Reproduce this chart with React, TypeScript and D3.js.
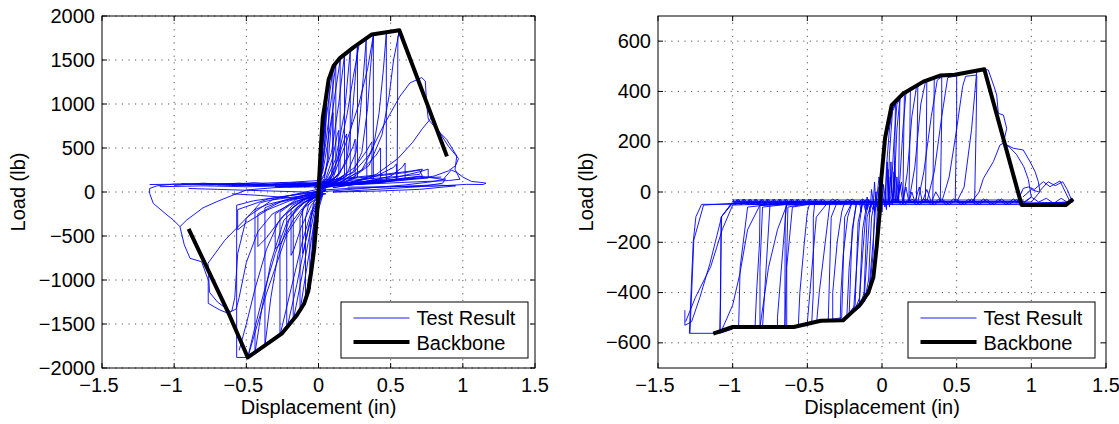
import React from "react";
import * as d3 from "d3";

type Pt = [number, number];

const X_TICKS = [-1.5, -1, -0.5, 0, 0.5, 1, 1.5];
const LEFT_Y_TICKS = [-2000, -1500, -1000, -500, 0, 500, 1000, 1500, 2000];
const RIGHT_Y_TICKS = [-600, -400, -200, 0, 200, 400, 600];
const LEGEND_LABELS = ["Test Result", "Backbone"];
const X_LABEL = "Displacement (in)";
const Y_LABEL = "Load (lb)";

const LEFT_BACKBONE: Pt[] = [
  [-0.9, -420], [-0.625, -1370], [-0.49, -1880], [-0.255, -1610], [-0.15, -1400],
  [-0.1, -1270], [-0.07, -1120], [-0.05, -900], [-0.03, -650], [-0.012, -300],
  [0, 0], [0.015, 480], [0.03, 850], [0.045, 1000], [0.07, 1275], [0.105, 1435],
  [0.15, 1525], [0.24, 1640], [0.37, 1790], [0.56, 1838], [0.89, 405],
];

const RIGHT_BACKBONE: Pt[] = [
  [-1.13, -563], [-1.0, -537], [-0.59, -537], [-0.41, -512], [-0.26, -510],
  [-0.15, -450], [-0.092, -400], [-0.058, -340], [-0.036, -220], [-0.015, -80],
  [-0.005, 50], [0.02, 213], [0.065, 345], [0.143, 392], [0.277, 439],
  [0.389, 463], [0.487, 466], [0.685, 488], [0.935, -52], [1.23, -52], [1.28, -28],
];

const LEFT_TEST: Pt[][] = [
  [[-0.02, -250], [-0.01, -100], [0, 0], [0.01, 150], [0.02, 350], [0.03, 500], [0.02, 300], [0.01, 120], [0, 20], [-0.01, -80], [-0.02, -250]],
  [[-0.04, -700], [-0.03, -450], [-0.015, -150], [0, 20], [0.015, 300], [0.03, 650], [0.045, 900], [0.04, 700], [0.02, 300], [0.005, 80], [-0.01, -100], [-0.03, -400], [-0.04, -700]],
  [[-0.06, -1100], [-0.05, -850], [-0.03, -450], [-0.01, -100], [0.01, 150], [0.03, 550], [0.05, 1000], [0.06, 1150], [0.05, 700], [0.03, 350], [0.01, 100], [-0.01, -80], [-0.04, -500], [-0.06, -1100]],
  [[-0.05, -950], [-0.035, -600], [-0.02, -250], [0, 50], [0.02, 400], [0.035, 750], [0.05, 950], [0.045, 600], [0.03, 280], [0.01, 60], [-0.02, -300], [-0.05, -950]],
  // positive peaks
  [[-0.02, 30], [0.01, 250], [0.03, 650], [0.05, 1000], [0.07, 1250], [0.075, 1270], [0.07, 700], [0.06, 350], [0.04, 180], [0.0, 100], [-0.05, 80], [-0.15, 60]],
  [[-0.03, 40], [0, 150], [0.02, 400], [0.05, 800], [0.08, 1150], [0.1, 1400], [0.1, 400], [0.09, 200], [0.05, 120], [0, 90], [-0.2, 80]],
  [[-0.02, 50], [0.02, 220], [0.05, 550], [0.08, 950], [0.12, 1450], [0.12, 250], [0.1, 150], [0.05, 110], [-0.1, 90], [-0.3, 80]],
  [[-0.02, 60], [0.03, 230], [0.06, 520], [0.1, 950], [0.15, 1500], [0.15, 220], [0.12, 140], [0.06, 110], [-0.1, 90], [-0.35, 85]],
  [[-0.02, 50], [0.04, 200], [0.09, 450], [0.14, 1000], [0.18, 1560], [0.18, 200], [0.14, 130], [0.06, 100], [-0.2, 90], [-0.4, 80]],
  [[0, 40], [0.06, 160], [0.12, 380], [0.18, 900], [0.22, 1610], [0.22, 190], [0.17, 120], [0.08, 100], [-0.3, 85], [-0.5, 80]],
  [[0, 40], [0.08, 120], [0.15, 220], [0.2, 400], [0.23, 800], [0.25, 1200], [0.27, 1660], [0.27, 170], [0.2, 120], [0.1, 90], [-0.4, 85], [-0.55, 80]],
  [[0, 40], [0.1, 110], [0.2, 220], [0.26, 450], [0.29, 900], [0.31, 1300], [0.33, 1730], [0.335, 160], [0.27, 120], [0.1, 90], [-0.5, 80], [-0.6, 75]],
  [[0, 40], [0.12, 110], [0.24, 230], [0.3, 450], [0.34, 950], [0.36, 1400], [0.38, 1780], [0.38, 140], [0.3, 110], [0.1, 85], [-0.5, 80], [-0.7, 80]],
  [[0.02, 40], [0.15, 110], [0.3, 250], [0.38, 500], [0.42, 900], [0.45, 1400], [0.47, 1810], [0.47, 130], [0.38, 110], [0.1, 80], [-0.6, 80], [-0.75, 85]],
  [[0.02, 40], [0.2, 120], [0.35, 300], [0.44, 650], [0.49, 1100], [0.52, 1500], [0.56, 1830], [0.55, 1760], [0.545, 150], [0.45, 110], [0.1, 75], [-0.6, 80], [-0.8, 90]],
  [[0.05, 50], [0.1, 200], [0.15, 500], [0.2, 900], [0.24, 1300], [0.28, 1660]],
  [[0.05, 60], [0.12, 250], [0.2, 600], [0.28, 1000], [0.34, 1400], [0.38, 1780]],
  // second-cycle spikes
  [[0, 40], [0.04, 150], [0.07, 400], [0.09, 800], [0.1, 900], [0.1, 200], [0.05, 100], [-0.1, 60]],
  [[0, 30], [0.05, 150], [0.1, 400], [0.13, 650], [0.14, 700], [0.14, 200], [0.08, 110], [-0.1, 60]],
  [[0, 40], [0.07, 140], [0.13, 350], [0.18, 600], [0.195, 660], [0.195, 180], [0.12, 110], [-0.1, 60]],
  [[0, 30], [0.1, 130], [0.18, 300], [0.24, 520], [0.254, 600], [0.254, 170], [0.15, 100], [-0.2, 60]],
  [[0, 30], [0.12, 120], [0.25, 280], [0.33, 460], [0.37, 570], [0.37, 160], [0.2, 100], [-0.2, 60]],
  [[0, 30], [0.15, 110], [0.3, 250], [0.4, 420], [0.43, 500], [0.43, 150], [0.25, 100], [-0.3, 60]],
  [[0, 30], [0.2, 100], [0.4, 180], [0.52, 280], [0.54, 320], [0.54, 140], [0.3, 90], [-0.3, 60]],
  [[0.1, 50], [0.3, 100], [0.5, 180], [0.58, 280], [0.6, 330], [0.6, 150], [0.4, 100], [0.0, 60]],
  [[0.05, 60], [0.3, 110], [0.55, 170], [0.7, 230], [0.76, 260], [0.76, 160], [0.5, 120], [0.1, 70]],
  // post-peak positive
  [[-0.2, 60], [0.05, 100], [0.241, 220], [0.35, 420], [0.449, 750], [0.565, 1090], [0.634, 1240], [0.715, 1300], [0.74, 1260], [0.75, 980], [0.761, 826], [0.819, 712], [0.888, 598], [0.958, 409], [0.946, 258], [0.98, 145], [0.9, 130], [0.6, 110], [0.2, 80], [-0.3, 60]],
  [[0.0, 50], [0.2, 100], [0.4, 200], [0.55, 380], [0.65, 560], [0.72, 720], [0.78, 840], [0.8, 780], [0.85, 650], [0.9, 520], [0.95, 420], [0.97, 380], [0.95, 300], [0.9, 240], [0.8, 180], [0.6, 140], [0.3, 100], [0.0, 60]],
  [[0.1, 50], [0.4, 120], [0.7, 180], [0.865, 144], [0.92, 250], [0.96, 220], [1.0, 170], [1.06, 120], [1.12, 110], [1.142, 106], [1.16, 100], [1.14, 85], [1.027, 87], [0.8, 65], [0.5, 60], [0.2, 55]],
  [[0.0, 0], [0.3, 40], [0.6, 80], [0.8, 120], [0.88, 150], [0.86, 100], [0.7, 60], [0.4, 30], [0.1, 0]],
  [[0, 80], [0.2, 150], [0.4, 180], [0.6, 220], [0.7, 250], [0.72, 180], [0.6, 150], [0.4, 120], [0.2, 100]],
  [[0.0, 20], [0.2, 40], [0.5, 60], [0.8, 80], [0.95, 70], [0.7, 30], [0.4, 10], [0.1, 0]],
  [[0.0, 110], [0.2, 160], [0.45, 200], [0.65, 240], [0.72, 260], [0.7, 200], [0.5, 170], [0.2, 130]],
  // negative peaks
  [[0.03, -20], [0, -150], [-0.02, -450], [-0.04, -800], [-0.06, -1100], [-0.06, -500], [-0.05, -250], [-0.03, -100], [0, -30], [0.05, 30]],
  [[0.03, -30], [0, -200], [-0.03, -500], [-0.06, -900], [-0.09, -1220], [-0.09, -300], [-0.07, -150], [-0.03, -60], [0.05, 20]],
  [[0.02, -40], [-0.02, -220], [-0.05, -550], [-0.09, -950], [-0.128, -1350], [-0.128, -300], [-0.1, -180], [-0.05, -80], [0.05, 20]],
  [[0.02, -40], [-0.03, -230], [-0.07, -560], [-0.12, -1000], [-0.175, -1460], [-0.175, -250], [-0.14, -170], [-0.06, -80], [0.05, 20]],
  [[0.02, -40], [-0.04, -230], [-0.09, -560], [-0.15, -1050], [-0.22, -1560], [-0.22, -250], [-0.17, -160], [-0.08, -80], [0.05, 20]],
  [[0.02, -40], [-0.05, -220], [-0.11, -550], [-0.19, -1100], [-0.267, -1630], [-0.267, -230], [-0.2, -150], [-0.1, -70], [0.05, 20]],
  [[0.02, -30], [-0.1, -120], [-0.2, -300], [-0.28, -700], [-0.33, -1200], [-0.371, -1750], [-0.371, -180], [-0.3, -130], [-0.15, -70], [0.05, 30]],
  [[0.02, -30], [-0.12, -130], [-0.24, -320], [-0.33, -800], [-0.39, -1300], [-0.44, -1830], [-0.44, -200], [-0.35, -140], [-0.15, -60], [0.05, 40]],
  [[0.02, -30], [-0.1, -180], [-0.22, -480], [-0.36, -1150], [-0.49, -1880], [-0.567, -1880], [-0.567, -150], [-0.45, -100], [-0.2, -40], [0.05, 50]],
  [[0.02, -20], [-0.03, -150], [-0.07, -400], [-0.1, -650], [-0.11, -700], [-0.11, -200], [-0.06, -90], [0.03, 0]],
  [[0.02, -20], [-0.05, -150], [-0.12, -400], [-0.17, -650], [-0.19, -720], [-0.19, -200], [-0.1, -80], [0.03, 0]],
  [[0.02, -20], [-0.08, -120], [-0.18, -330], [-0.26, -580], [-0.3, -650], [-0.3, -250], [-0.15, -80], [0.03, 0]],
  [[0.0, -20], [-0.12, -100], [-0.25, -280], [-0.36, -520], [-0.42, -620], [-0.42, -250], [-0.25, -100], [0.0, 0]],
  [[0.0, -10], [-0.2, -100], [-0.35, -200], [-0.5, -350], [-0.56, -430], [-0.56, -200], [-0.35, -80], [0, 10]],
  // outer negative loops
  [[-0.3, 80], [-0.7, 90], [-1.0, 90], [-1.12, 70], [-1.17, 40], [-1.17, -15], [-1.145, -129], [-1.05, -260], [-1.006, -318], [-0.96, -394], [-0.93, -600], [-0.89, -754], [-0.81, -792], [-0.764, -1000], [-0.764, -1265], [-0.683, -1341], [-0.625, -1379], [-0.6, -1350], [-0.58, -1200], [-0.56, -700], [-0.5, -300], [-0.4, -120], [-0.2, -40], [0, 0]],
  [[-0.96, -394], [-0.913, -318], [-0.8, -180], [-0.705, -110], [-0.6, -40], [-0.498, 23], [-0.3, 50], [0, 60]],
  [[0.05, -20], [-0.1, -40], [-0.32, -90], [-0.49, -280], [-0.65, -550], [-0.766, -810], [-0.755, -1140], [-0.7, -1250], [-0.61, -1360], [-0.57, -1330], [-0.55, -1200], [-0.5, -800], [-0.42, -450], [-0.32, -250], [-0.15, -100], [0.05, -20]],
  [[-0.49, -1880], [-0.45, -1600], [-0.38, -1150], [-0.3, -700], [-0.22, -350], [-0.15, -180], [-0.05, -60]],
  [[-0.55, -1800], [-0.5, -1500], [-0.44, -1100], [-0.36, -650], [-0.28, -350], [-0.18, -150], [-0.05, -40]],
  // band lines
  [[-1.17, 85], [-1.0, 88], [-0.7, 95], [-0.4, 100], [-0.2, 110], [0, 130], [0.1, 150]],
  [[-0.9, 40], [-0.7, 30], [-0.5, 20], [-0.3, 10], [-0.1, 0], [0.05, -20]],
  [[-0.6, -20], [-0.4, -40], [-0.25, -60], [-0.1, -80], [0, -60]],
  [[-1.1, 60], [-0.8, 70], [-0.5, 60], [-0.2, 70], [0, 90], [0.3, 120], [0.6, 150], [0.85, 170]],
  [[-1.0, 75], [-0.8, 100], [-0.6, 80], [-0.45, 105], [-0.3, 85], [-0.15, 110], [0, 100]],
  [[-0.95, 95], [-0.75, 80], [-0.55, 100], [-0.4, 75], [-0.25, 105], [-0.1, 90], [0.05, 120]],
];

const RIGHT_TEST: Pt[][] = [
  // positive cycles
  [[-0.03, -40], [0.02, -40], [0.03, 100], [0.05, 250], [0.07, 330], [0.09, 350], [0.085, 150], [0.08, -40], [0.0, -40]],
  [[0.02, -40], [0.04, -40], [0.05, 150], [0.07, 320], [0.1, 360], [0.12, 375], [0.115, 200], [0.11, -40], [0, -40]],
  [[0.04, -40], [0.06, -20], [0.08, 200], [0.1, 350], [0.13, 380], [0.15, 390], [0.145, 200], [0.14, -40], [0, -40]],
  [[0.06, -40], [0.08, 0], [0.1, 250], [0.12, 370], [0.17, 400], [0.19, 405], [0.185, 150], [0.18, -40], [0, -40]],
  [[0.1, -40], [0.12, 50], [0.14, 250], [0.16, 390], [0.22, 420], [0.24, 425], [0.235, 150], [0.23, -40], [0, -40]],
  [[0.14, -40], [0.17, 80], [0.2, 300], [0.23, 415], [0.28, 437], [0.3, 440], [0.297, 200], [0.29, -40], [0, -40]],
  [[0.18, -40], [0.22, 100], [0.26, 350], [0.29, 435], [0.34, 450], [0.35, 452], [0.345, 200], [0.34, -40], [0, -40]],
  [[0.24, -40], [0.28, 80], [0.33, 300], [0.37, 445], [0.4, 458], [0.4, 300], [0.39, -40], [0, -40]],
  [[0.3, -40], [0.35, 80], [0.4, 300], [0.44, 455], [0.5, 462], [0.5, 300], [0.49, -40], [0, -40]],
  [[0.4, -40], [0.45, 60], [0.5, 250], [0.54, 420], [0.56, 460], [0.63, 465], [0.635, 460], [0.63, 250], [0.62, -40], [0, -40]],
  [[0.5, -40], [0.55, 20], [0.6, 250], [0.634, 479], [0.685, 488], [0.712, 485], [0.75, 420], [0.768, 386], [0.779, 313], [0.813, 306], [0.835, 253], [0.813, 194], [0.88, 174], [0.946, 167], [0.991, 121], [1.025, 81], [1.047, 41], [1.058, 1], [1.0, -40], [0.5, -40]],
  [[0.6, -40], [0.65, 0], [0.679, 54], [0.746, 121], [0.79, 187], [0.813, 194], [0.85, 180], [0.9, 150], [0.95, 100], [0.98, 50], [1.0, -20], [0.95, -40], [0.5, -40]],
  [[0.9, -45], [0.947, 15], [0.98, 20], [1.02, 10], [1.08, 41], [1.125, 21], [1.192, 44], [1.237, -12], [1.26, -40], [1.0, -45]],
  [[0.945, -19], [1.0, 10], [1.05, 0], [1.112, 41], [1.16, 25], [1.21, 41], [1.24, 10], [1.27, -32], [1.28, -40], [1.0, -45]],
  [[0.95, -45], [1.0, -20], [1.05, -40], [1.1, -25], [1.15, -45], [1.2, -25], [1.25, -45], [1.28, -35]],
  // negative cycles
  [[0.0, -40], [-0.03, -40], [-0.04, -200], [-0.06, -330], [-0.085, -400], [-0.09, -410], [-0.06, -200], [-0.04, -40], [0.05, -40]],
  [[-0.03, -40], [-0.05, -60], [-0.06, -250], [-0.085, -400], [-0.118, -436], [-0.12, -430], [-0.1, -250], [-0.08, -60], [-0.06, -40], [0.05, -40]],
  [[-0.05, -40], [-0.07, -100], [-0.09, -350], [-0.118, -436], [-0.15, -460], [-0.15, -420], [-0.13, -250], [-0.11, -100], [-0.09, -40], [0.05, -40]],
  [[-0.07, -40], [-0.1, -100], [-0.12, -400], [-0.15, -460], [-0.186, -476], [-0.19, -470], [-0.17, -300], [-0.15, -120], [-0.13, -40], [0.05, -40]],
  [[-0.1, -40], [-0.13, -150], [-0.15, -420], [-0.186, -476], [-0.23, -500], [-0.235, -490], [-0.22, -300], [-0.19, -120], [-0.17, -40], [0.05, -40]],
  [[-0.13, -40], [-0.16, -120], [-0.18, -450], [-0.257, -512], [-0.28, -512], [-0.275, -400], [-0.26, -250], [-0.23, -100], [-0.2, -40], [0.05, -40]],
  [[-0.17, -40], [-0.2, -150], [-0.22, -490], [-0.257, -512], [-0.33, -512], [-0.33, -400], [-0.3, -200], [-0.27, -80], [-0.25, -40], [0.05, -40]],
  [[-0.2, -40], [-0.25, -100], [-0.27, -500], [-0.39, -512], [-0.437, -515], [-0.42, -400], [-0.39, -250], [-0.36, -100], [-0.348, -40], [0.05, -40]],
  [[-0.3, -40], [-0.34, -100], [-0.36, -512], [-0.46, -520], [-0.47, -515], [-0.46, -400], [-0.46, -100], [-0.45, -40], [0.05, -40]],
  [[-0.36, -40], [-0.44, -100], [-0.5, -520], [-0.55, -530], [-0.56, -530], [-0.55, -400], [-0.52, -200], [-0.5, -80], [-0.482, -40], [0.05, -40]],
  [[-0.4, -40], [-0.6, -60], [-0.638, -300], [-0.638, -537], [-0.65, -537], [-0.65, -400], [-0.648, -100], [-0.64, -40], [0.05, -40]],
  [[-0.45, -40], [-0.63, -60], [-0.65, -530], [-0.7, -537], [-0.7, -500], [-0.68, -350], [-0.66, -200], [-0.638, -40], [0.05, -40]],
  [[-0.5, -40], [-0.8, -60], [-0.817, -300], [-0.817, -537], [-0.85, -537], [-0.84, -400], [-0.82, -200], [-0.817, -52], [0.05, -40]],
  [[-0.55, -40], [-0.75, -50], [-0.8, -537], [-0.817, -537], [-0.76, -300], [-0.7, -150], [-0.638, -52], [0.05, -40]],
  [[-0.6, -40], [-0.9, -60], [-0.95, -300], [-0.96, -540], [-1.07, -545], [-1.0, -450], [-0.951, -323], [-0.9, -150], [-0.817, -52], [0.05, -40]],
  [[-0.8, -40], [-1.0, -45], [-1.078, -100], [-1.08, -400], [-1.085, -555], [-1.08, -300], [-1.074, -98], [-1.007, -45], [0.05, -40]],
  [[-0.9, -45], [-1.007, -49], [-1.208, -49], [-1.246, -98], [-1.264, -198], [-1.281, -430], [-1.29, -562], [-1.085, -562], [-1.0, -545]],
  [[-1.32, -470], [-1.32, -530], [-1.275, -516], [-1.22, -420], [-1.152, -284], [-1.074, -98], [-1.007, -45], [-0.5, -40]],
  [[-1.315, -516], [-1.25, -420], [-1.147, -297], [-1.07, -150], [-1.0, -52], [-0.6, -45]],
  [[-1.286, -560], [-1.26, -191], [-1.195, -52], [-1.0, -45]],
  // band zigzags
  [[-1.0, -28], [-0.98, -50], [-0.96, -29], [-0.94, -50], [-0.92, -28], [-0.9, -49], [-0.88, -28], [-0.86, -50], [-0.84, -29], [-0.82, -50], [-0.8, -28], [-0.78, -50], [-0.76, -28], [-0.74, -49], [-0.72, -28], [-0.7, -50], [-0.68, -29], [-0.66, -50], [-0.64, -28], [-0.62, -50], [-0.6, -28], [-0.58, -49], [-0.56, -28], [-0.54, -50], [-0.52, -29], [-0.5, -50], [-0.48, -28], [-0.46, -50], [-0.44, -28], [-0.42, -50], [-0.4, -28]],
  [[-0.99, -50], [-0.97, -29], [-0.95, -50], [-0.93, -28], [-0.91, -50], [-0.89, -29], [-0.87, -50], [-0.85, -28], [-0.83, -50], [-0.81, -29], [-0.79, -50], [-0.77, -28], [-0.75, -50], [-0.73, -29], [-0.71, -50], [-0.69, -28], [-0.67, -50], [-0.65, -29], [-0.63, -50], [-0.61, -28], [-0.59, -50], [-0.57, -29], [-0.55, -50], [-0.53, -28], [-0.51, -50], [-0.49, -29], [-0.47, -50], [-0.45, -28], [-0.43, -50], [-0.41, -29]],
  [[-0.4, -28], [-0.35, -50], [-0.3, -29], [-0.25, -50], [-0.2, -28], [-0.15, -50], [-0.1, -29], [-0.05, -50], [0.0, -28], [0.05, -50], [0.1, -29], [0.15, -50], [0.2, -28], [0.25, -50], [0.3, -29], [0.35, -50], [0.4, -28], [0.45, -50], [0.5, -29], [0.55, -50], [0.6, -28], [0.65, -50], [0.7, -29], [0.75, -50], [0.8, -28], [0.85, -50], [0.9, -30], [0.95, -50]],
  [[-0.38, -50], [-0.33, -28], [-0.28, -50], [-0.23, -29], [-0.18, -50], [-0.13, -28], [-0.08, -50], [-0.03, -29], [0.03, -50], [0.08, -28], [0.13, -50], [0.18, -29], [0.23, -50], [0.28, -28], [0.33, -50], [0.38, -29], [0.43, -50], [0.48, -28], [0.53, -50], [0.58, -29], [0.63, -50], [0.68, -28], [0.73, -50], [0.78, -29], [0.83, -50], [0.88, -28], [0.93, -50]],
  [[-1.0, -32], [0.95, -32]],
  [[-1.0, -38], [0.95, -38]],
  [[-1.0, -44], [1.25, -44]],
  [[-0.9, -50], [0.95, -50]],
  // noise near origin
  [[-0.15, -40], [-0.14, -80], [-0.13, -30], [-0.11, -75], [-0.1, -20], [-0.08, -80], [-0.07, 10], [-0.05, -80], [-0.04, 0], [-0.03, -75], [-0.02, 20], [0.0, -80], [0.01, 30], [0.03, -70], [0.04, 90], [0.05, -60], [0.06, 120], [0.07, -50], [0.08, 80], [0.09, -40], [0.1, 60], [0.11, -40], [0.12, 30], [0.14, -40], [0.16, 20], [0.18, -40], [0.2, 0], [0.22, -40], [0.25, 20], [0.27, -40], [0.3, 10], [0.33, -40], [0.36, 0], [0.4, -40]],
  [[-0.12, -40], [-0.1, -70], [-0.09, -30], [-0.06, -70], [-0.05, 40], [-0.04, -60], [-0.02, 60], [0.02, -60], [0.035, 120], [0.045, -40], [0.055, 60], [0.075, -40], [0.085, 121], [0.1, -40], [0.13, 40], [0.15, -40]],
];

type PanelProps = {
  id: string;
  x0: number; x1: number; y0: number; y1: number;
  yDomain: [number, number];
  yTicks: number[];
  test: Pt[][];
  backbone: Pt[];
  yLabelX: number;
  legendX: number;
  legendY: number;
};

const FONT = "'Liberation Sans', Arial, Helvetica, sans-serif";

function fmt(v: number): string {
  return String(v).replace("-", "\u2212");
}

function Panel(p: PanelProps) {
  const x = d3.scaleLinear().domain([-1.5, 1.5]).range([p.x0, p.x1]);
  const y = d3.scaleLinear().domain(p.yDomain).range([p.y1, p.y0]);
  const line = d3.line<Pt>().x((d) => x(d[0])).y((d) => y(d[1]));
  const tickLen = 5;
  const clipId = `clip-${p.id}`;
  const lw = 187;
  const lh = 56;
  return (
    <g>
      <defs>
        <clipPath id={clipId}>
          <rect x={p.x0} y={p.y0} width={p.x1 - p.x0} height={p.y1 - p.y0} />
        </clipPath>
      </defs>
      <g stroke="#555" strokeWidth={1} strokeDasharray="1.2,5.4">
        {X_TICKS.slice(1, -1).map((t) => (
          <line key={`gx${t}`} x1={x(t)} x2={x(t)} y1={p.y0} y2={p.y1} />
        ))}
        {p.yTicks.map((t) => (
          <line key={`gy${t}`} x1={p.x0} x2={p.x1} y1={y(t)} y2={y(t)} />
        ))}
      </g>
      <g clipPath={`url(#${clipId})`} fill="none">
        {p.test.map((loop, i) => (
          <path key={i} d={line(loop) || ""} stroke="#0000ff" strokeWidth={0.9} strokeLinejoin="round" />
        ))}
        <path d={line(p.backbone) || ""} stroke="#000" strokeWidth={4} strokeLinejoin="round" />
      </g>
      <rect x={p.x0} y={p.y0} width={p.x1 - p.x0} height={p.y1 - p.y0} fill="none" stroke="#000" strokeWidth={1} />
      <g stroke="#000" strokeWidth={1}>
        {X_TICKS.map((t) => (
          <g key={`tx${t}`}>
            <line x1={x(t)} x2={x(t)} y1={p.y1} y2={p.y1 - tickLen} />
            <line x1={x(t)} x2={x(t)} y1={p.y0} y2={p.y0 + tickLen} />
          </g>
        ))}
        {p.yTicks.map((t) => (
          <g key={`ty${t}`}>
            <line x1={p.x0} x2={p.x0 + tickLen} y1={y(t)} y2={y(t)} />
            <line x1={p.x1} x2={p.x1 - tickLen} y1={y(t)} y2={y(t)} />
          </g>
        ))}
      </g>
      <g fontFamily={FONT} fontSize={20} fill="#000">
        {X_TICKS.map((t) => (
          <text key={`lx${t}`} x={x(t) + (t < 0 ? -3 : 0)} y={392} textAnchor="middle">{fmt(t)}</text>
        ))}
        {p.yTicks.map((t) => (
          <text key={`ly${t}`} x={p.x0 - 7} y={y(t) + 6.5} textAnchor="end">{fmt(t)}</text>
        ))}
        <text x={(p.x0 + p.x1) / 2} y={414} textAnchor="middle">{X_LABEL}</text>
        <text transform={`translate(${p.yLabelX},${(p.y0 + p.y1) / 2}) rotate(-90)`} textAnchor="middle">{Y_LABEL}</text>
      </g>
      <g>
        <rect x={p.legendX} y={p.legendY} width={lw} height={lh} fill="#fff" stroke="#000" strokeWidth={1} />
        <line x1={p.legendX + 12.5} x2={p.legendX + 68.5} y1={p.legendY + 16} y2={p.legendY + 16} stroke="#0000ff" strokeWidth={0.9} />
        <line x1={p.legendX + 12.5} x2={p.legendX + 68.5} y1={p.legendY + 40} y2={p.legendY + 40} stroke="#000" strokeWidth={4} />
        <text x={p.legendX + 75.5} y={p.legendY + 23} fontFamily={FONT} fontSize={20}>{LEGEND_LABELS[0]}</text>
        <text x={p.legendX + 75.5} y={p.legendY + 48} fontFamily={FONT} fontSize={20}>{LEGEND_LABELS[1]}</text>
      </g>
    </g>
  );
}

export default function App() {
  return (
    <svg
      width={1119}
      height={424}
      viewBox="0 0 1119 424"
      style={{ position: "absolute", left: 0, top: 0, background: "#fff" }}
    >
      <rect x={0} y={0} width={1119} height={424} fill="#fff" />
      <Panel
        id="left"
        x0={102} x1={535} y0={16} y1={368}
        yDomain={[-2000, 2000]}
        yTicks={LEFT_Y_TICKS}
        test={LEFT_TEST}
        backbone={LEFT_BACKBONE}
        yLabelX={25}
        legendX={341}
        legendY={302}
      />
      <Panel
        id="right"
        x0={658} x1={1106} y0={16} y1={368}
        yDomain={[-700, 700]}
        yTicks={RIGHT_Y_TICKS}
        test={RIGHT_TEST}
        backbone={RIGHT_BACKBONE}
        yLabelX={593}
        legendX={908}
        legendY={302}
      />
    </svg>
  );
}
